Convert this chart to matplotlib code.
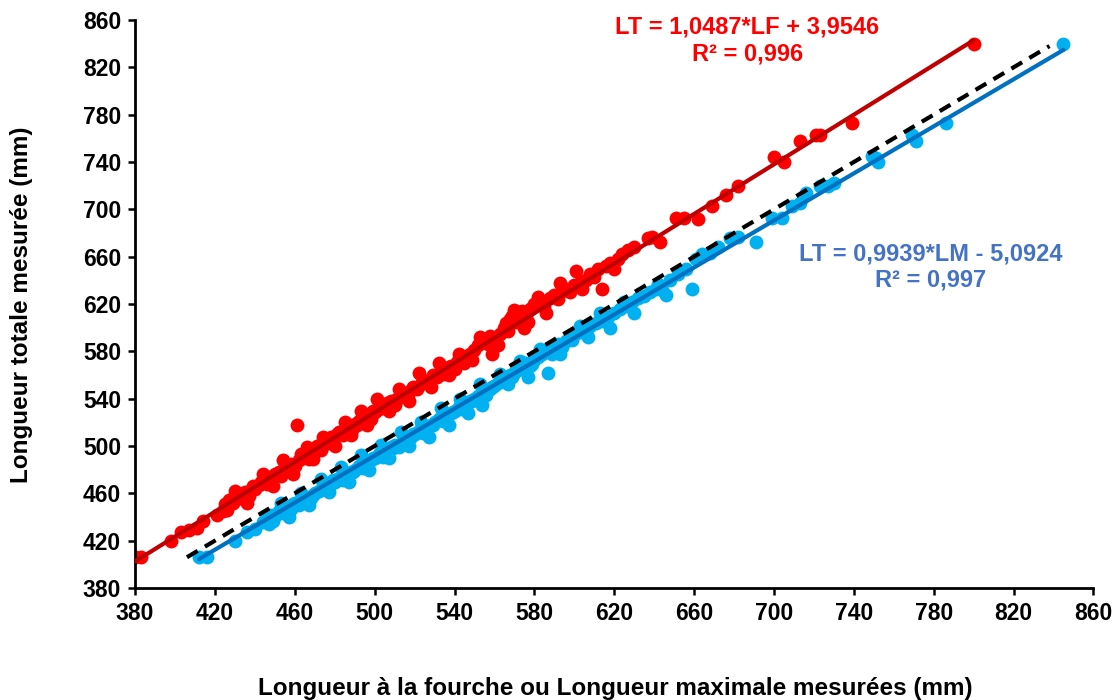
import matplotlib
matplotlib.use("Agg")
import matplotlib.pyplot as plt
import numpy as np

plt.rcParams['font.family'] = ['Liberation Sans', 'DejaVu Sans']
plt.rcParams['font.weight'] = 'bold'

# Red series: fork length (LF) vs total length (LT)
lf = [380, 383, 398, 403, 407, 411, 414, 421, 424, 425, 427, 429, 431, 433, 435, 437, 438, 440,
      442, 443, 445, 446, 448, 450, 452, 453, 455, 457, 458, 460, 461, 462, 464, 465, 467, 468,
      470, 471, 473, 475, 476, 478, 479, 481, 483, 484, 486, 487, 489, 490, 492, 494, 495, 497,
      498, 500, 502, 503, 505, 506, 508, 510, 511, 513, 514, 516, 518, 519, 521, 523, 524, 526,
      528, 529, 531, 533, 534, 536, 538, 540, 541, 543, 545, 546, 548, 550, 552, 554, 556, 558,
      559, 561, 563, 565, 566, 568, 569, 571, 572, 574, 576, 578, 580, 583, 585, 588, 590, 592,
      594, 596, 598, 600, 601, 603, 606, 608, 610, 612, 614, 616, 618, 620, 622, 624, 627, 630,
      637, 639, 643, 651, 655, 662, 669, 676, 682, 700, 705, 713, 721, 723, 739, 800,
      426, 432, 439, 447, 456, 463, 472, 482, 491, 499, 509, 517, 527, 537, 547, 557, 567, 577,
      430, 436, 444, 449, 454, 459, 466, 469, 474, 480, 485, 488, 493, 496, 501, 507, 512, 517,
      522, 528, 532, 537, 542, 549, 553, 562, 570, 575, 582, 586, 593, 604]
lt_lf = [406, 406, 420, 427, 429, 431, 437, 442, 445, 451, 454, 452, 455, 458, 461, 458, 463, 464,
         467, 470, 472, 468, 474, 476, 478, 475, 480, 483, 485, 483, 518, 488, 490, 492, 489, 495,
         497, 500, 497, 502, 505, 508, 504, 510, 512, 509, 514, 517, 515, 519, 521, 520, 524, 527,
         523, 529, 531, 534, 532, 536, 538, 535, 540, 542, 545, 543, 547, 550, 548, 552, 555, 553,
         557, 560, 558, 563, 561, 566, 568, 565, 571, 573, 570, 576, 578, 581, 585, 588, 590, 593,
         578, 591, 595, 600, 604, 607, 610, 605, 612, 614, 609, 616, 620, 622, 618, 625, 628, 624,
         631, 633, 630, 636, 648, 638, 640, 645, 643, 650, 633, 652, 655, 650, 658, 662, 666, 668,
         676, 677, 672, 693, 693, 692, 703, 712, 720, 744, 740, 758, 763, 763, 773, 840,
         446, 459, 466, 474, 483, 493, 500, 512, 518, 530, 538, 546, 556, 567, 575, 586, 597, 605,
         462, 452, 476, 466, 488, 476, 499, 489, 508, 500, 520, 509, 530, 518, 540, 530, 548, 538,
         562, 550, 570, 560, 578, 573, 592, 585, 615, 600, 626, 612, 638, 633]

# Blue series: maximal length (LM) vs total length (LT)
lm = [412, 416, 430, 436, 440, 444, 446, 448, 450, 452, 454, 456, 458, 460, 462, 464, 466, 468,
      470, 472, 474, 476, 478, 480, 482, 484, 486, 488, 490, 492, 494, 496, 498, 500, 502, 504,
      506, 508, 510, 512, 514, 516, 518, 520, 522, 524, 526, 528, 530, 532, 534, 536, 538, 540,
      542, 544, 546, 548, 550, 552, 554, 556, 558, 560, 562, 564, 566, 568, 570, 572, 574, 576,
      578, 580, 582, 584, 587, 588, 590, 592, 594, 596, 598, 600, 603, 606, 608, 611, 614, 617,
      620, 623, 626, 629, 632, 635, 638, 641, 644, 648, 652, 656, 659, 661, 664, 668, 672, 678,
      682, 691, 699, 704, 709, 713, 716, 723, 727, 730, 749, 751, 752, 769, 771, 786, 845,
      449, 459, 469, 479, 489, 499, 509, 519, 529, 539, 549, 559, 569, 579, 589, 599,
      447, 453, 457, 463, 467, 473, 477, 483, 487, 493, 497, 503, 507, 513, 517, 523, 527, 533,
      537, 543, 547, 553, 554, 563, 567, 573, 577, 583, 593, 603, 607, 613, 618, 625, 630, 642, 646]
lt_lm = [406, 406, 420, 427, 430, 436, 440, 442, 441, 445, 443, 448, 447, 452, 450, 455, 457, 456,
         460, 462, 465, 463, 468, 470, 473, 471, 476, 478, 480, 483, 481, 486, 488, 490, 493, 491,
         496, 499, 501, 499, 504, 506, 508, 510, 513, 511, 516, 518, 520, 523, 521, 526, 528, 530,
         533, 531, 536, 538, 540, 542, 545, 543, 548, 551, 553, 556, 558, 560, 562, 564, 567, 570,
         568, 573, 575, 578, 562, 580, 583, 586, 584, 589, 591, 594, 596, 598, 601, 604, 606, 609,
         612, 616, 618, 622, 625, 627, 630, 633, 632, 640, 645, 650, 633, 658, 662, 663, 668, 676,
         677, 672, 693, 693, 703, 705, 714, 720, 720, 722, 745, 743, 740, 763, 758, 773, 840,
         437, 451, 459, 471, 478, 490, 498, 510, 518, 529, 538, 550, 558, 569, 578, 590,
         434, 452, 440, 460, 450, 472, 461, 482, 470, 492, 480, 501, 490, 512, 500, 520, 508, 532,
         518, 540, 528, 552, 535, 561, 552, 572, 558, 582, 578, 601, 592, 612, 600, 622, 612, 637, 628]

red_eq = "LT = 1,0487*LF + 3,9546\nR² = 0,996"
blue_eq = "LT = 0,9939*LM - 5,0924\nR² = 0,997"
red_coef = (1.0487, 3.9546)
blue_coef = (0.9939, -5.0924)
ticks = [380, 420, 460, 500, 540, 580, 620, 660, 700, 740, 780, 820, 860]
one_to_one = [406, 838]

fig = plt.figure(figsize=(11.17, 7.0), dpi=100)
ax = fig.add_axes([0.1209, 0.16, 0.858, 0.8114])

ax.scatter(lf, lt_lf, s=100, color='#FF0000', zorder=2, linewidths=0)
ax.scatter(lm, lt_lm, s=100, color='#00B0F0', zorder=2, linewidths=0)

xr = np.array([min(lf), max(lf)])
ax.plot(xr, red_coef[0] * xr + red_coef[1], color='#C00000', lw=3, zorder=3, solid_capstyle='round')
xb = np.array([min(lm), max(lm)])
ax.plot(xb, blue_coef[0] * xb + blue_coef[1], color='#0070C0', lw=3, zorder=3, solid_capstyle='round')
ax.plot(one_to_one, one_to_one, color='black', lw=3, ls=(0, (3, 2)), zorder=2.5)

ax.text(0.639, 1.008, red_eq, transform=ax.transAxes, ha='center', va='top',
        color='#FF0000', fontsize=17, fontweight='bold', linespacing=1.2)
ax.text(0.830, 0.609, blue_eq, transform=ax.transAxes, ha='center', va='top',
        color='#4472C4', fontsize=17, fontweight='bold', linespacing=1.2)

ax.set_xlim(380, 860)
ax.set_ylim(380, 860)
ax.set_xticks(ticks)
ax.set_yticks(ticks)
ax.tick_params(direction='out', length=5, width=1.8, labelsize=16.5, pad=5)
for lab in ax.get_xticklabels() + ax.get_yticklabels():
    lab.set_fontweight('bold')
for side in ['top', 'right']:
    ax.spines[side].set_visible(False)
for side in ['left', 'bottom']:
    ax.spines[side].set_linewidth(2)

fig.text(22 / 1117, 0.564, "Longueur totale mesurée (mm)", rotation=90,
         ha='center', va='center', fontsize=17.5, fontweight='bold')
fig.text(0.551, 0.017, "Longueur à la fourche ou Longueur maximale mesurées (mm)",
         ha='center', va='center', fontsize=17.5, fontweight='bold')

fig.savefig("out.png", dpi=100)
